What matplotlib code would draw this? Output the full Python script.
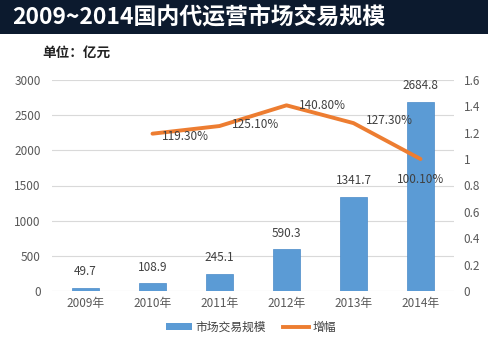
import matplotlib
matplotlib.use("Agg")
import matplotlib.pyplot as plt
from matplotlib.patches import Rectangle
from matplotlib.lines import Line2D
from matplotlib.ticker import FuncFormatter

plt.rcParams['font.family'] = ['Noto Sans CJK SC', 'DejaVu Sans']

years = ["2009年", "2010年", "2011年", "2012年", "2013年", "2014年"]
scale = [49.7, 108.9, 245.1, 590.3, 1341.7, 2684.8]
growth_years = ["2010年", "2011年", "2012年", "2013年", "2014年"]
growth = [1.193, 1.251, 1.408, 1.273, 1.001]
growth_labels = ["119.30%", "125.10%", "140.80%", "127.30%", "100.10%"]

W, H = 488, 353
fig = plt.figure(figsize=(W / 100, H / 100), dpi=100)
fig.patch.set_facecolor("white")

# title bar
fig.add_artist(Rectangle((0, 1 - 34 / H), 1, 34 / H, transform=fig.transFigure,
                         facecolor="#0c1a2e", edgecolor="none", zorder=0))
fig.text(12 / W, 1 - 17 / H, "2009~2014国内代运营市场交易规模", color="white",
         fontsize=16.5, fontweight="bold", va="center", ha="left")
fig.text(42 / W, 1 - 53 / H, "单位：亿元", color="#222222", fontsize=9.8,
         fontweight="bold", va="center", ha="left")

ax = fig.add_axes([52 / W, (H - 291) / H, 402 / W, 211 / H])
x = list(range(len(years)))
bars = ax.bar(x, scale, width=0.41, color="#5b9bd5", edgecolor="#4a8ac9",
              linewidth=0.5, zorder=3)
ax.set_xlim(-0.5, len(years) - 0.5)
ax.set_ylim(0, 3000)
ax.set_yticks(range(0, 3001, 500))
ax.set_xticks(x)
ax.set_xticklabels(years)
ax.grid(axis="y", color="#d9d9d9", linewidth=0.8, zorder=0)
for s in ax.spines.values():
    s.set_visible(False)
ax.tick_params(length=0, colors="#595959", labelsize=8.5)
ax.tick_params(axis="x", pad=4)
ax.tick_params(axis="y", pad=8)
for xi, v in zip(x, scale):
    ax.annotate(f"{v:g}", (xi, v), xytext=(0, 7), textcoords="offset points",
                ha="center", va="bottom", fontsize=8.5, color="#404040", zorder=5)

ax2 = ax.twinx()
gx = [years.index(g) for g in growth_years]
ax2.plot(gx, growth, color="#ed7d31", linewidth=2.8, solid_capstyle="round",
         solid_joinstyle="round", zorder=4)
ax2.set_ylim(0, 1.6)
ax2.set_yticks([i * 0.2 for i in range(9)])
ax2.yaxis.set_major_formatter(FuncFormatter(lambda v, p: f"{v:.1f}".rstrip("0").rstrip(".") if v else "0"))
for s in ax2.spines.values():
    s.set_visible(False)
ax2.tick_params(length=0, colors="#595959", labelsize=8.5, pad=7)

offsets = [(7, -2), (9, 1), (9, 0), (9, 2), (0, -10)]
aligns = ["left", "left", "left", "left", "center"]
vas = ["center", "center", "center", "center", "top"]
for xi, v, lab, off, ha, va in zip(gx, growth, growth_labels, offsets, aligns, vas):
    ax2.annotate(lab, (xi, v), xytext=off, textcoords="offset points",
                 ha=ha, va=va, fontsize=8.5, color="#404040", zorder=6)

handles = [Rectangle((0, 0), 1, 1, facecolor="#5b9bd5", edgecolor="none"),
           Line2D([0], [0], color="#ed7d31", linewidth=2.8)]
fig.legend(handles, ["市场交易规模", "增幅"], loc="center",
           bbox_to_anchor=(251 / W, 1 - 327 / H), ncol=2, frameon=False,
           fontsize=8.5, labelcolor="#404040", handlelength=2.2, handleheight=0.5,
           columnspacing=1.5, handletextpad=0.3)

fig.savefig("out.png", dpi=100)
